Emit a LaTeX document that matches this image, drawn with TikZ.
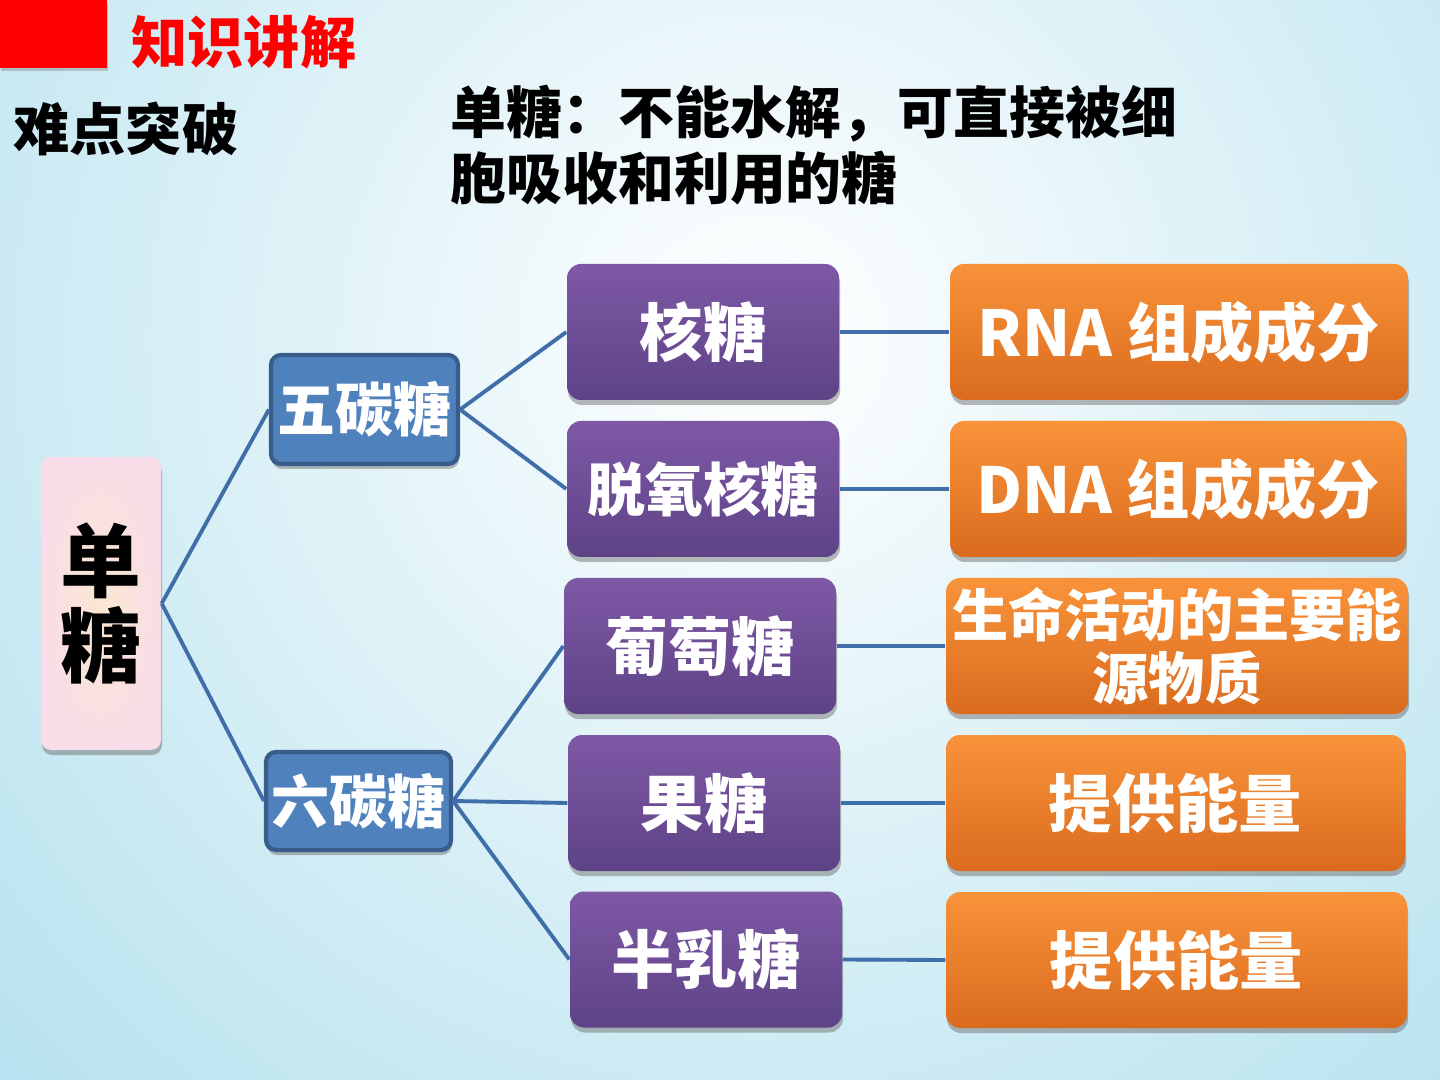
\documentclass[tikz,border=0pt]{standalone}
\usepackage{fontspec}
\newfontfamily\cjk{Noto Sans CJK SC}
\usetikzlibrary{shadows}

\definecolor{bgblue}{HTML}{92D3E6}
\definecolor{linkblue}{HTML}{3F6EA8}
\definecolor{boxblue}{HTML}{4F81BD}
\definecolor{boxblueline}{HTML}{385D8A}
\definecolor{purptop}{HTML}{7E58A5}
\definecolor{purpbot}{HTML}{5E4387}
\definecolor{orgtop}{HTML}{F9933A}
\definecolor{orgbot}{HTML}{DA6B1E}
\definecolor{pinkout}{HTML}{F9DDE8}
\definecolor{pinkin}{HTML}{FAE7D0}

\begin{document}
\begin{tikzpicture}[
    link/.style={draw=linkblue, line width=1.1pt},
    boxshadow/.style={drop shadow={shadow xshift=0.01cm, shadow yshift=-0.05cm, fill=black!60, opacity=0.45}},
    carbon/.style={draw=boxblueline, line width=1.2pt, fill=boxblue, rounded corners=0.1cm, text=white, inner sep=0pt, boxshadow, font=\cjk\bfseries\fontsize{16.5}{19}\selectfont},
    sugar/.style={rounded corners=0.14cm, top color=purptop, bottom color=purpbot, text=white, minimum width=2.72cm, minimum height=1.36cm, inner sep=0pt, boxshadow, font=\cjk\bfseries\fontsize{18}{21}\selectfont},
    role/.style={rounded corners=0.14cm, top color=orgtop, bottom color=orgbot, text=white, minimum height=1.36cm, inner sep=0pt, boxshadow, align=center, font=\cjk\bfseries\fontsize{18}{21}\selectfont},
    font=\cjk\bfseries
]

%-------------------------------------------------
% Background
%-------------------------------------------------
\useasboundingbox (0,0) rectangle (14.4,-10.8);
\begin{scope}
    \clip (0,0) rectangle (14.4,-10.8);
    \shade[inner color=white, outer color=bgblue] (7.6,-3.4) circle (16);
\end{scope}

%-------------------------------------------------
% Headings
%-------------------------------------------------
\fill[red, drop shadow={shadow xshift=0.01cm, shadow yshift=-0.03cm, opacity=0.4}] (0,0) rectangle (1.07,-0.68);
\node[text=red, font=\cjk\bfseries\fontsize{16}{19}\selectfont] (zhishi) at (2.44,-0.42) {知识讲解};
\node[font=\cjk\bfseries\fontsize{16}{19}\selectfont] (nandian) at (1.26,-1.29) {难点突破};
\node[anchor=west, align=left, inner sep=0pt, font=\cjk\bfseries\fontsize{15.9}{18.6}\selectfont] (dingyi) at (4.5,-1.45)
    {单糖：不能水解，可直接被细\\胞吸收和利用的糖};

%-------------------------------------------------
% Tree
%-------------------------------------------------
\node[rounded corners=0.1cm, inner color=pinkin, outer color=pinkout, minimum width=1.2cm, minimum height=2.93cm, inner sep=0pt, align=center, boxshadow, font=\cjk\bfseries\fontsize{23}{24}\selectfont] (dantang) at (1.01,-6.035) {单\\糖};

\node[carbon, minimum width=1.87cm, minimum height=1.09cm] (wutan)  at (3.645,-4.095) {五碳糖};
\node[carbon, minimum width=1.85cm, minimum height=0.98cm] (liutan) at (3.585,-8.01)  {六碳糖};

\node[sugar] (hetang)  at (7.03,-3.32) {核糖};
\node[sugar, font=\cjk\bfseries\fontsize{16.5}{19}\selectfont] (tuoyang) at (7.03,-4.89) {脱氧核糖};
\node[sugar] (putao)   at (7.00,-6.46) {葡萄糖};
\node[sugar] (guotang) at (7.04,-8.03) {果糖};
\node[sugar] (rutang)  at (7.06,-9.595) {半乳糖};

\node[role, minimum width=4.58cm] (rna)      at (11.79,-3.32) {RNA 组成成分};
\node[role, minimum width=4.56cm] (dna)      at (11.78,-4.89) {DNA 组成成分};
\node[role, minimum width=4.62cm, font=\cjk\bfseries\fontsize{16}{18}\selectfont] (nengyuan) at (11.77,-6.46) {生命活动的主要能\\源物质};
\node[role, minimum width=4.59cm] (gong1)    at (11.755,-8.03) {提供能量};
\node[role, minimum width=4.61cm] (gong2)    at (11.765,-9.60) {提供能量};

%-------------------------------------------------
% Links
%-------------------------------------------------
\foreach \a/\b in {dantang/wutan, dantang/liutan, wutan/hetang, wutan/tuoyang,
                   liutan/putao, liutan/guotang, liutan/rutang,
                   hetang/rna, tuoyang/dna, putao/nengyuan, guotang/gong1, rutang/gong2}
    \draw[link] (\a.east) -- (\b.west);

\end{tikzpicture}
\end{document}
